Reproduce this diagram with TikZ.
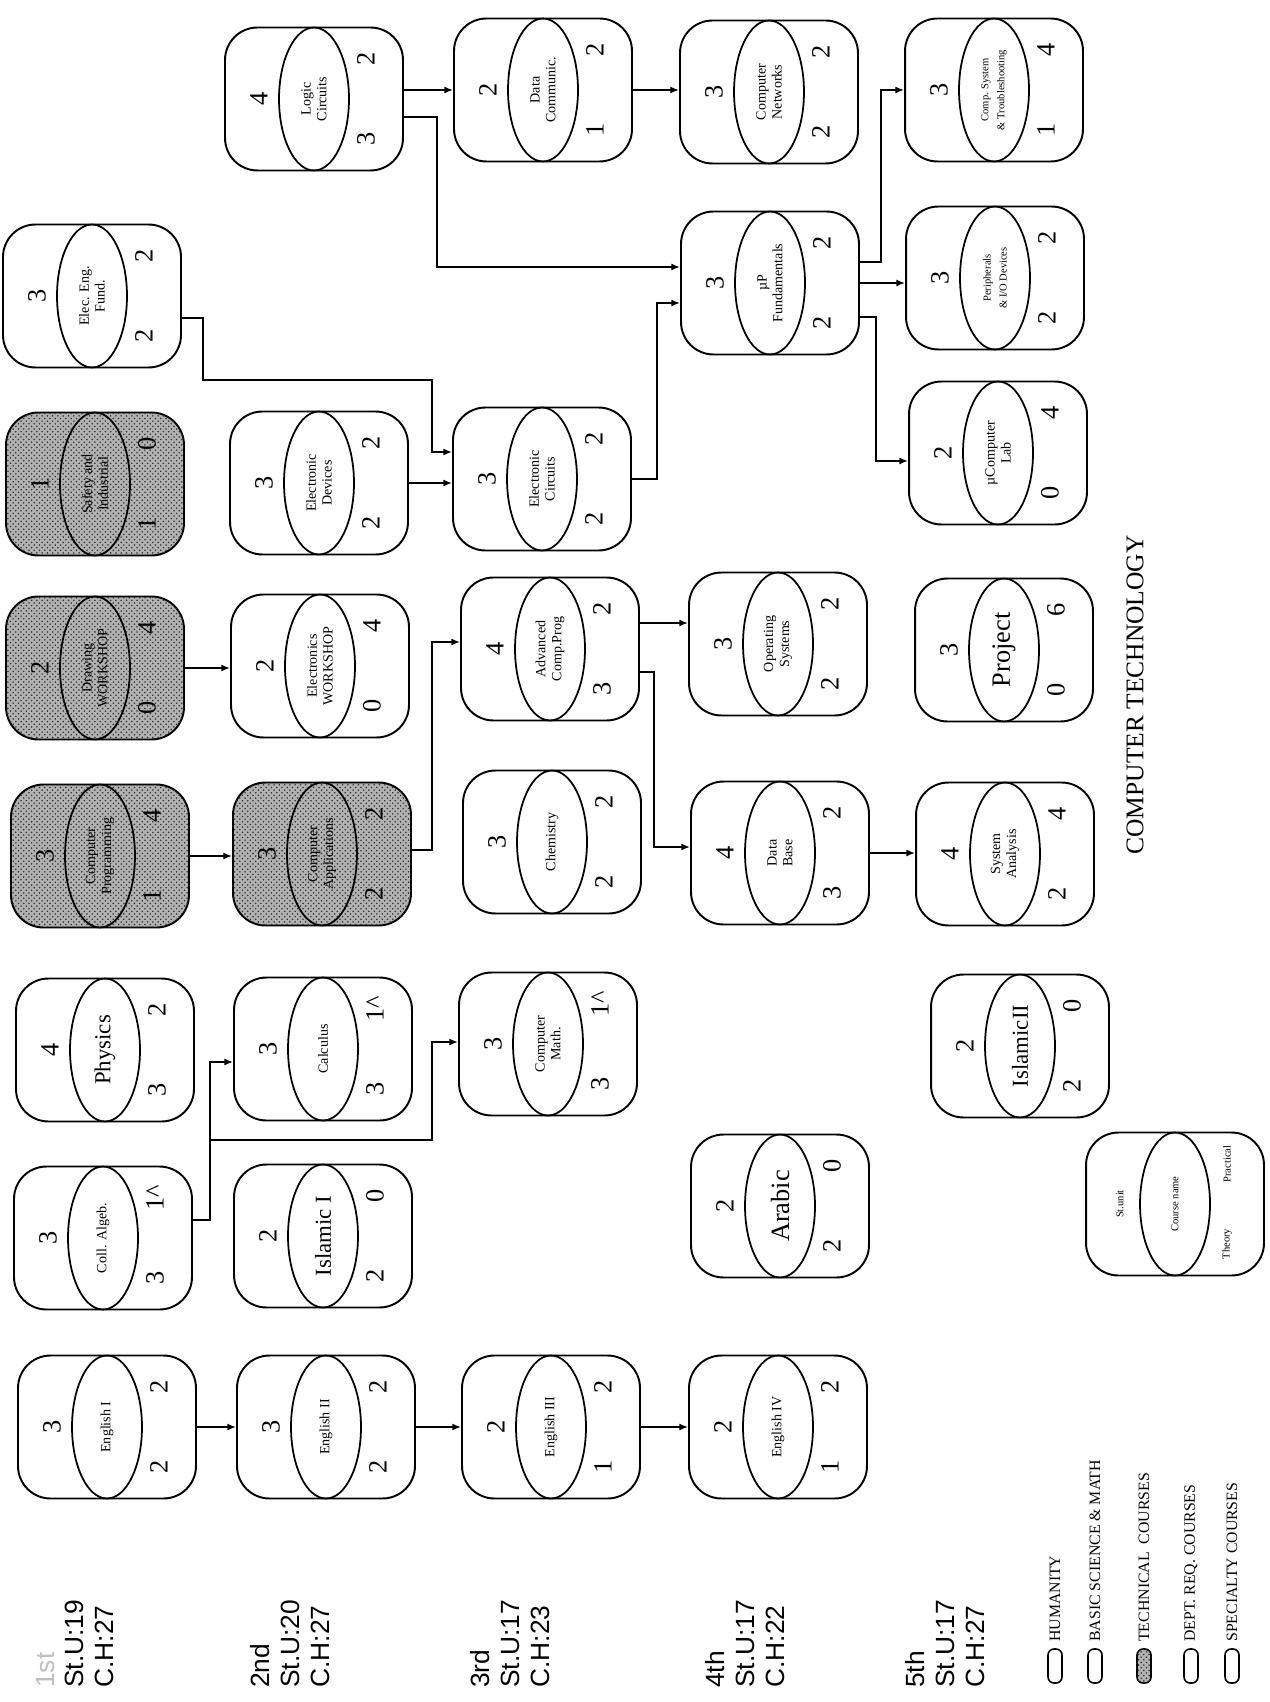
\documentclass[tikz,border=0pt]{standalone}
\usepackage{fontspec}
\setmainfont{Liberation Serif}
\newfontfamily\labelfont{Liberation Sans}
\usetikzlibrary{shapes.geometric, arrows.meta, calc, patterns}

\newcommand{\bigname}{\fontsize{13}{14}\selectfont}
\newcommand{\hugename}{\fontsize{15}{16}\selectfont}
\newcommand{\tinyname}{\fontsize{6}{7}\selectfont}

% one course: box, name ellipse, st. unit, theory and practical hours
\newcommand{\course}[7][]{%
  \node[cbox, #1] (#2) at (#3) {};
  \node[cname] at (#2.center) {#4};
  \node[num] at ($(#2.center)+(-55,0)$) {#5};
  \node[num] at ($(#2.center)+(52,40)$) {#6};
  \node[num] at ($(#2.center)+(52,-40)$) {#7};
}

\begin{document}
\begin{tikzpicture}[
    x=0.02cm, y=-0.02cm,
    cbox/.style={rectangle, draw, line width=1.1pt, rounded corners=0.65cm, minimum width=3.56cm, minimum height=2.86cm, inner sep=0pt},
    cname/.style={ellipse, draw, line width=1pt, rotate=90, minimum width=2.86cm, minimum height=1.4cm, inner sep=0pt, align=center, font=\fontsize{8}{9}\selectfont},
    num/.style={rotate=90, inner sep=0pt, font=\fontsize{15}{15}\selectfont},
    shaded/.style={fill=gray!60, postaction={pattern=crosshatch dots, pattern color=black!80}},
    arrow/.style={-{Latex[length=5pt, width=4pt]}, line width=0.9pt},
    semlabel/.style={rotate=90, anchor=west, align=left, inner sep=0pt, font=\labelfont\fontsize{15}{17}\selectfont},
    keytext/.style={rotate=90, anchor=west, inner sep=0pt, font=\fontsize{9}{10}\selectfont},
    keybox/.style={draw, line width=0.9pt, rounded corners=0.12cm, minimum width=0.28cm, minimum height=0.68cm, inner sep=0pt}
]
\path[use as bounding box, fill=white] (0,0) rectangle (1269,1702);

% 1st semester
\course{eef}{92,296}{Elec. Eng.\\Fund.}{3}{2}{2}
\course[shaded]{safety}{95,484}{Safety and\\Industrial}{1}{1}{0}
\course[shaded]{drawing}{95,668}{Drawing\\WORKSHOP}{2}{0}{4}
\course[shaded]{introcomp}{100,856}{Computer\\Programming}{3}{1}{4}
\course{physics}{105,1050}{\bigname Physics}{4}{3}{2}
\course{collalg}{103,1238}{Coll. Algeb.}{3}{3}{1\textasciicircum}
\course{eng1}{107,1427}{English I}{3}{2}{2}

% 2nd semester
\course{logic}{314,99}{Logic\\Circuits}{4}{3}{2}
\course{elecdev}{319,483}{Electronic\\Devices}{3}{2}{2}
\course{elecws}{320,666}{Electronics\\WORKSHOP}{2}{0}{4}
\course[shaded]{compapp}{322,854}{Computer\\Applications}{3}{2}{2}
\course{calculus}{323,1049}{Calculus}{3}{3}{1\textasciicircum}
\course{islamic1}{323,1236}{\bigname Islamic I}{2}{2}{0}
\course{eng2}{326,1427}{English II}{3}{2}{2}

% 3rd semester
\course{datacomm}{543,90}{Data\\Communic.}{2}{1}{2}
\course{eleccir}{542,479}{Electronic\\Circuits}{3}{2}{2}
\course{advcomp}{550,649}{Advanced\\Comp.Prog}{4}{3}{2}
\course{chemistry}{552,842}{Chemistry}{3}{2}{2}
\course{compmath}{548,1044}{Computer\\Math.}{3}{3}{1\textasciicircum}
\course{eng3}{551,1427}{English III}{2}{1}{2}

% 4th semester
\course{compnet}{769,92}{Computer\\Networks}{3}{2}{2}
\course{mup}{770,283}{µP\\Fundamentals}{3}{2}{2}
\course{opsys}{778,644}{Operating\\Systems}{3}{2}{2}
\course{database}{780,853}{Data\\Base}{4}{3}{2}
\course{arabic}{780,1206}{\hugename Arabic}{2}{2}{0}
\course{eng4}{778,1427}{English IV}{2}{1}{2}

% 5th semester
\course{compsys}{994,90}{\tinyname Comp. System\\\tinyname \& Troubleshooting}{3}{1}{4}
\course{periph}{995,278}{\tinyname Peripherals\\\tinyname \& I/O Devices}{3}{2}{2}
\course{mulab}{998,453}{µComputer\\Lab}{2}{0}{4}
\course{project}{1004,650}{\hugename Project}{3}{0}{6}
\course{sysanal}{1005,854}{System\\Analysis}{4}{2}{4}
\course{islamic2}{1020,1046}{\bigname IslamicII}{2}{2}{0}

% key box
\course{legend}{1175,1204}{\tinyname Course name}{\tinyname St.unit}{\tinyname Theory}{\tinyname Practical}

% Arrows
\draw[arrow] (eng1.east) -- (eng1.east -| eng2.west);
\draw[arrow] (eng2.east) -- (eng2.east -| eng3.west);
\draw[arrow] (eng3.east) -- (eng3.east -| eng4.west);
\coordinate (ca) at (210,1140);
\draw[arrow] ($(collalg.east)+(0,-18)$) -| (ca) |- ($(calculus.west)+(0,13)$);
\draw[arrow] (ca) -- (432,1140) |- ($(compmath.west)+(0,-2)$);
\draw[arrow] (introcomp.east) -- (introcomp.east -| compapp.west);
\draw[arrow] ($(compapp.east)+(0,-4)$) -- ++(20,0) |- ($(advcomp.west)+(0,-7)$);
\draw[arrow] (drawing.east) -- (drawing.east -| elecws.west);
\draw[arrow] (elecdev.east) -- (elecdev.east -| eleccir.west);
\coordinate (ce) at (432,380);
\draw[arrow] ($(eef.east)+(0,22)$) -- ++(21,0) |- (ce) |- ($(eleccir.west)+(0,-27)$);
\draw[arrow] (eleccir.east) -- ++(25,0) |- ($(mup.west)+(0,20)$);
\draw[arrow] (datacomm.west -| logic.east) -- (datacomm.west);
\draw[arrow] ($(logic.east)+(0,18)$) -- ++(33,0) |- ($(mup.west)+(0,-16)$);
\draw[arrow] (datacomm.east) -- (datacomm.east -| compnet.west);
\draw[arrow] ($(mup.east)+(0,-21)$) -- ++(21,0) |- (compsys.west);
\draw[arrow] (mup.east) -- (mup.east -| periph.west);
\draw[arrow] ($(mup.east)+(0,34)$) -- ++(16,0) |- ($(mulab.west)+(0,8)$);
\coordinate (ao) at ($(advcomp.east)+(0,-26)$);
\draw[arrow] (ao) -- (ao -| opsys.west);
\draw[arrow] ($(advcomp.east)+(0,23)$) -- ++(14,0) |- ($(database.west)+(0,-6)$);
\draw[arrow] (database.east) -- (database.east -| sysanal.west);

% Semester labels
\node[semlabel] (sem1) at (75,1688) {\textcolor{gray!50}{1st}\\St.U:19\\C.H:27};
\node[semlabel] (sem2) at (290,1688) {2nd\\St.U:20\\C.H:27};
\node[semlabel] (sem3) at (510,1688) {3rd\\St.U:17\\C.H:23};
\node[semlabel] (sem4) at (745,1688) {4th\\St.U:17\\C.H:22};
\node[semlabel] (sem5) at (945,1688) {5th\\St.U:17\\C.H:27};

% Key
\node[keybox] (k1) at (1055,1666) {};
\node[keytext] at (1055,1642) {HUMANITY};
\node[keybox] (k2) at (1095,1666) {};
\node[keytext] at (1095,1642) {BASIC SCIENCE \& MATH};
\node[keybox, shaded] (k3) at (1144,1666) {};
\node[keytext] at (1144,1642) {TECHNICAL\ \ COURSES};
\node[keybox] (k4) at (1191,1666) {};
\node[keytext] at (1191,1642) {DEPT. REQ. COURSES};
\node[keybox] (k5) at (1232,1666) {};
\node[keytext] at (1232,1642) {SPECIALTY COURSES};

\node[rotate=90, font=\fontsize{14.5}{15}\selectfont] (title) at (1135,695) {COMPUTER TECHNOLOGY};

\end{tikzpicture}
\end{document}
